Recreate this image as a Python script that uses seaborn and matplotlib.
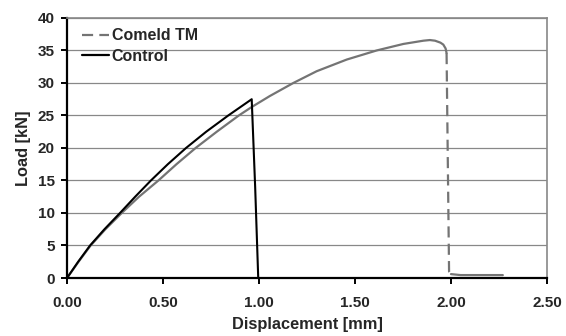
import matplotlib
matplotlib.use("Agg")
import matplotlib.pyplot as plt
import seaborn as sns
from matplotlib.lines import Line2D

# values
comeld_x = [0.0, 0.06, 0.123, 0.2, 0.285, 0.375, 0.476, 0.57, 0.67, 0.78, 0.895,
            0.962, 1.057, 1.179, 1.30, 1.457, 1.613, 1.752, 1.856, 1.89,
            1.917, 1.945, 1.96, 1.972, 1.977]
comeld_y = [0.0, 2.5, 5.0, 7.5, 10.0, 12.5, 15.0, 17.5, 20.0, 22.5, 25.0,
            26.3, 28.0, 30.0, 31.8, 33.6, 35.0, 36.0, 36.5, 36.6,
            36.5, 36.2, 35.9, 35.3, 34.6]
drop_x = [1.977, 1.99, 2.0]
drop_y = [34.6, 1.0, 0.6]
tail_x = [2.0, 2.05, 2.27]
tail_y = [0.6, 0.45, 0.45]

control_x = [0.0, 0.058, 0.12, 0.195, 0.276, 0.355, 0.437, 0.525, 0.62, 0.725, 0.84,
             0.962, 0.98, 0.996]
control_y = [0.0, 2.5, 5.0, 7.5, 10.0, 12.5, 15.0, 17.5, 20.0, 22.5, 25.0,
             27.5, 14.0, 0.0]

x_ticks = [0.0, 0.5, 1.0, 1.5, 2.0, 2.5]
y_ticks = [0, 5, 10, 15, 20, 25, 30, 35, 40]

sns.set_style("white")
plt.rcParams['font.family'] = ['Liberation Sans', 'DejaVu Sans']
plt.rcParams['font.weight'] = 'bold'

fig = plt.figure(figsize=(5.66, 3.36), dpi=100)
ax = fig.add_axes([0.1184, 0.1726, 0.848, 0.774])

grey = "#747474"
dash = (0, (5, 2.8))
sns.lineplot(x=comeld_x, y=comeld_y, sort=False, estimator=None, color=grey, lw=1.6, ax=ax)
sns.lineplot(x=drop_x, y=drop_y, sort=False, estimator=None, color=grey, lw=1.6,
             ax=ax, linestyle=dash)
sns.lineplot(x=tail_x, y=tail_y, sort=False, estimator=None, color=grey, lw=1.6, ax=ax)
sns.lineplot(x=control_x, y=control_y, sort=False, estimator=None, color="black", lw=1.5, ax=ax)

ax.set_xlim(0, 2.5)
ax.set_ylim(0, 40)
ax.set_xticks(x_ticks)
ax.set_xticklabels([f"{v:.2f}" for v in x_ticks])
ax.set_yticks(y_ticks)
ax.yaxis.grid(True, color="#888888", lw=0.9)
ax.set_axisbelow(True)

for s in ["left", "bottom"]:
    ax.spines[s].set_color("black")
    ax.spines[s].set_linewidth(1.6)
for s in ["top", "right"]:
    ax.spines[s].set_color("#888888")
    ax.spines[s].set_linewidth(1.2)

ax.tick_params(axis="both", direction="out", length=4, width=1.4, color="black",
               labelsize=11, bottom=True, left=True)
ax.tick_params(axis="x", pad=9)
ax.tick_params(axis="y", pad=5)
ax.set_xlabel("Displacement [mm]", fontsize=11.8, fontweight="bold", labelpad=5)
ax.set_ylabel("Load [kN]", fontsize=11.8, fontweight="bold", labelpad=5)

handles = [Line2D([], [], color=grey, lw=1.6, linestyle=dash),
           Line2D([], [], color="black", lw=1.6)]
ax.legend(handles, ["Comeld TM", "Control"], loc="upper left", frameon=False,
          handlelength=1.65, handletextpad=0.2, labelspacing=0.32,
          borderaxespad=0.0, borderpad=0.2, bbox_to_anchor=(0.025, 0.972),
          prop={"weight": "bold", "size": 11.5})

fig.savefig("out.png", dpi=100)
